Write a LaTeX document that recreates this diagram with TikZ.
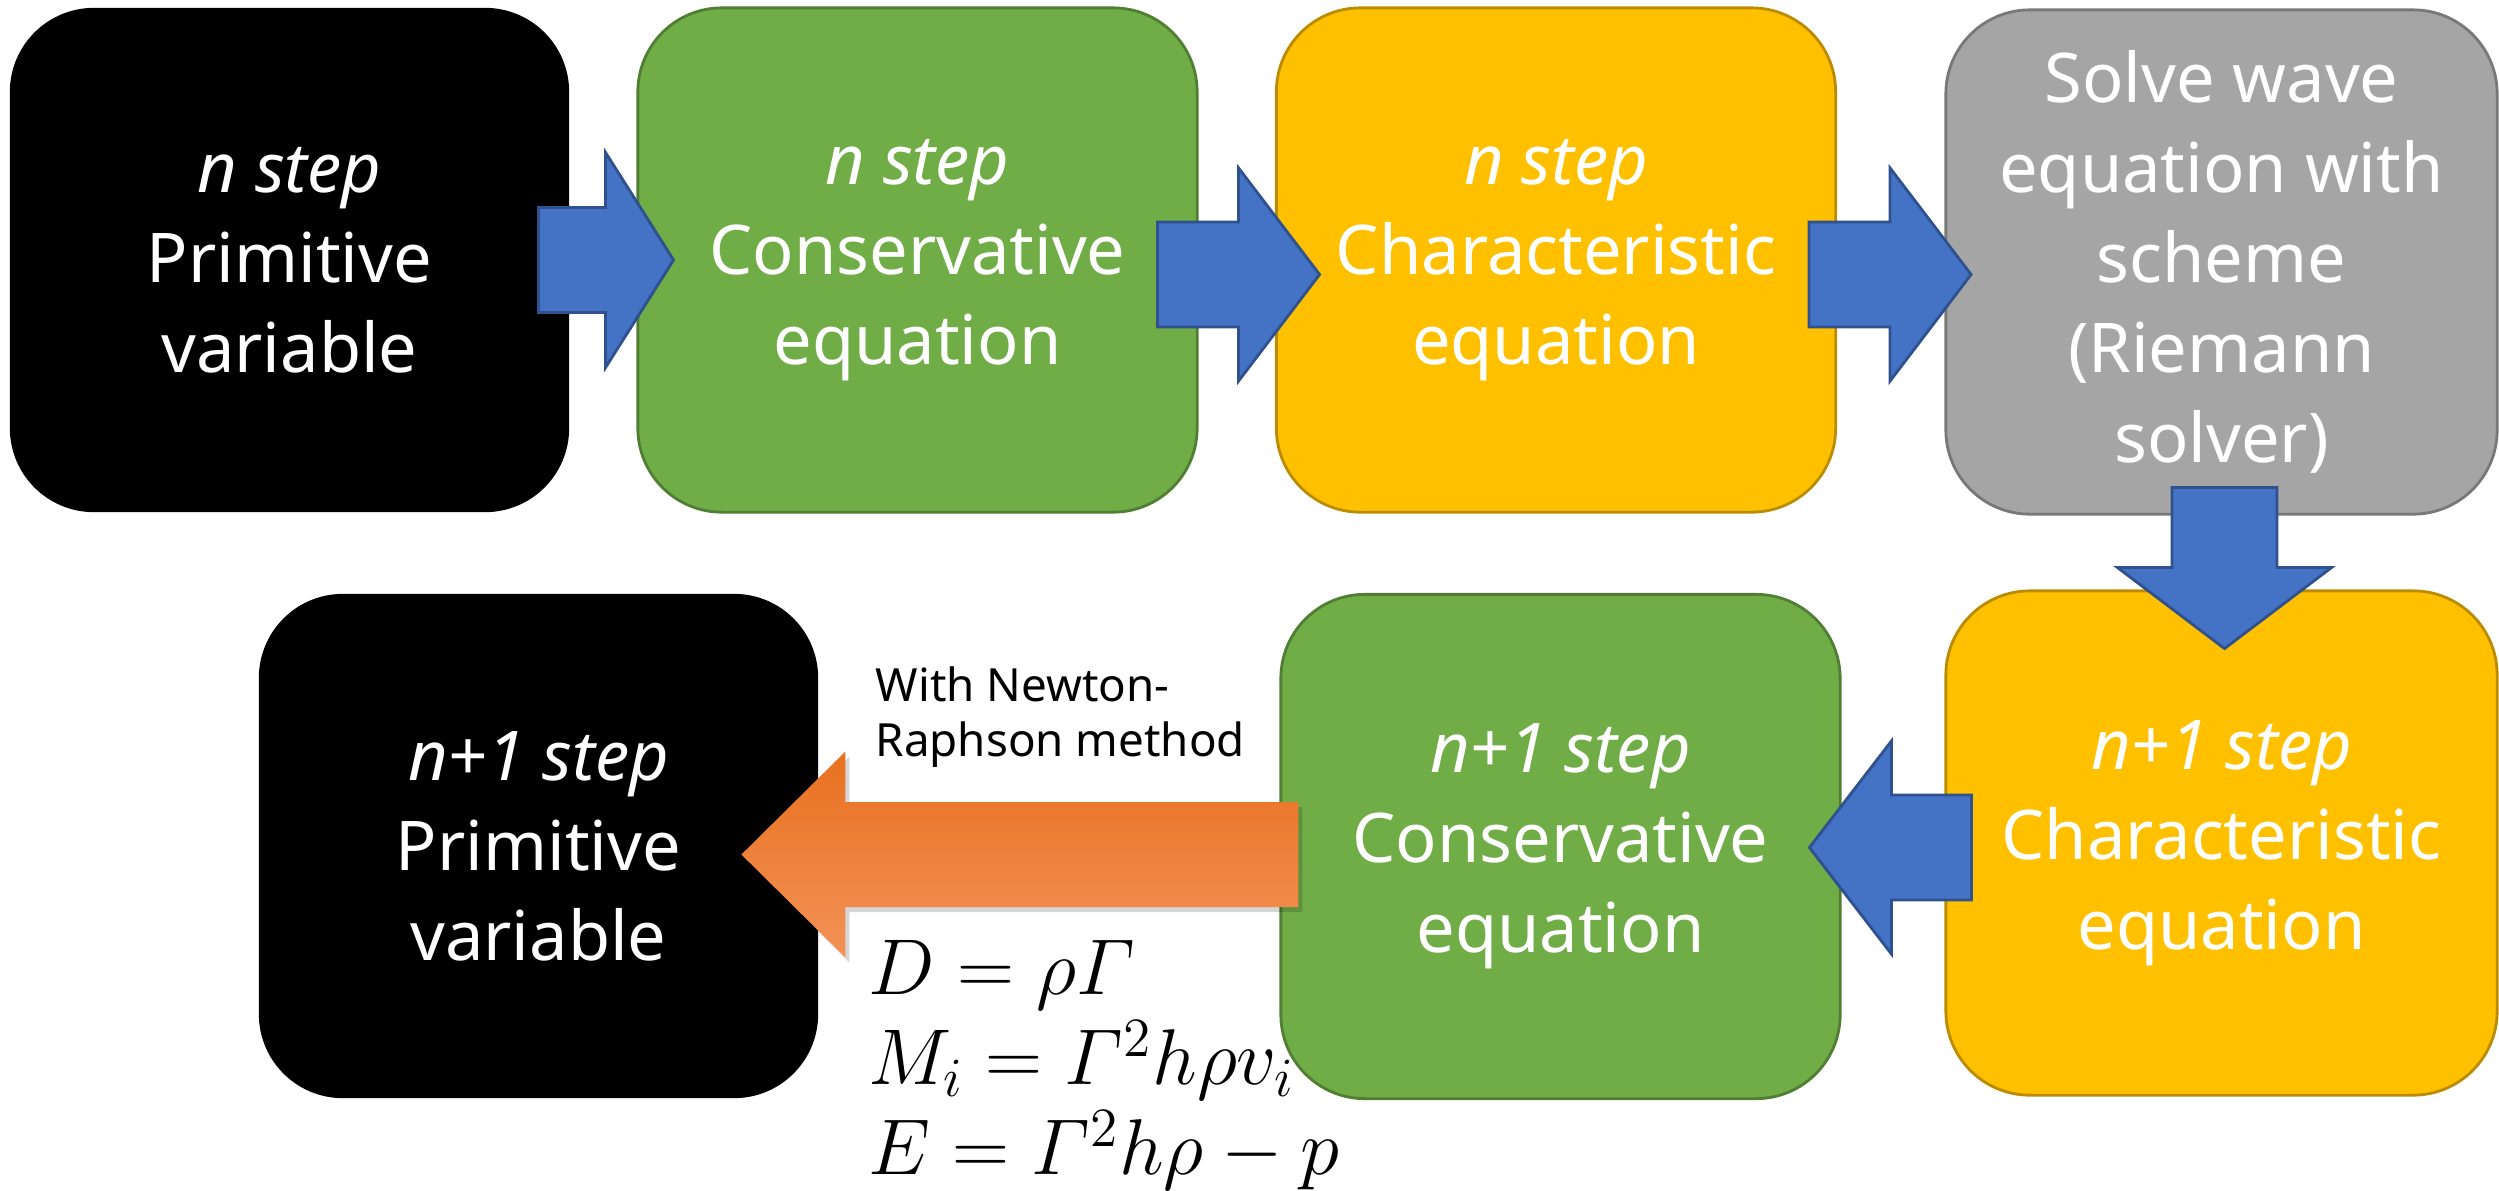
\RequirePackage{fix-cm}
\documentclass[tikz,border=0pt]{standalone}
\usepackage{amsmath}
\usepackage[no-math]{fontspec}
\setmainfont{Noto Sans}
\usetikzlibrary{calc}

\definecolor{boxgreen}{HTML}{70AD47}
\definecolor{greenedge}{HTML}{507E32}
\definecolor{boxyellow}{HTML}{FFC000}
\definecolor{yellowedge}{HTML}{BC8C00}
\definecolor{boxgray}{HTML}{A5A5A5}
\definecolor{grayedge}{HTML}{787878}
\definecolor{arrowblue}{HTML}{4472C4}
\definecolor{blueedge}{HTML}{2F528F}
\definecolor{orangetop}{HTML}{E8701F}
\definecolor{orangebottom}{HTML}{F39257}

\tikzset{
  flowbox/.style={rectangle, rounded corners=0.84cm, minimum width=5.59cm,
    minimum height=5.04cm, inner sep=0pt, align=center, text=white,
    font=\fontsize{19.5}{25.6}\selectfont, line width=0.8pt},
  blackbox/.style={flowbox, fill=black},
  greenbox/.style={flowbox, fill=boxgreen, draw=greenedge},
  yellowbox/.style={flowbox, fill=boxyellow, draw=yellowedge},
  graybox/.style={flowbox, fill=boxgray, draw=grayedge},
  bluearrow/.style={fill=arrowblue, draw=blueedge, line width=0.8pt, line join=miter},
  orangearrow/.style={top color=orangetop, bottom color=orangebottom, draw=none},
  arrowshadow/.style={fill=black, opacity=0.16, draw=none},
  note/.style={inner sep=0pt, align=left, text=black},
  % block arrow along +x: length / head length / shaft half-width / head half-width
  pics/fatarrow/.style args={#1/#2/#3/#4}{code={
    \path[pic actions] (0,-#3) -- ({#1-#2},-#3) -- ({#1-#2},-#4) -- (#1,0)
      -- ({#1-#2},#4) -- ({#1-#2},#3) -- (0,#3) -- cycle;
  }},
}

\begin{document}
\begin{tikzpicture}[x=0.01cm, y=-0.01cm]
\useasboundingbox (0,0) rectangle (2499,1190);

% top row
\node[blackbox]  (b1) at (289.5,260) {\textit{n step}\\Primitive\\variable};
\node[greenbox]  (b2) at (917.5,260) {\textit{n step}\\Conservative\\equation};
\node[yellowbox] (b3) at (1556,260) {\textit{n step}\\Characteristic\\equation};
\node[graybox, minimum width=5.51cm] (b4) at (2221.5,262)
  {Solve wave\\equation with\\scheme\\(Riemann\\solver)};

% bottom row
\node[yellowbox, minimum width=5.51cm] (b5) at (2221.5,843)
  {\textit{n+1 step}\\Characteristic\\equation};
\node[greenbox]  (b6) at (1560.5,846.5) {\textit{n+1 step}\\Conservative\\equation};
\node[blackbox]  (b7) at (538.5,846) {\textit{n+1 step}\\Primitive\\variable};

% flow arrows
\pic[bluearrow] at ($(b1.east)+(-32,0)$) {fatarrow=135/68/52.5/107.5};
\pic[bluearrow] at ($(b2.east)+(-41,14.5)$) {fatarrow=162/81/52.5/106.5};
\pic[bluearrow] at ($(b3.east)+(-28,14.5)$) {fatarrow=162/81/52.5/106.5};
\pic[bluearrow, rotate=-90] at ($(b4.south)+(3,-28)$) {fatarrow=161/81/52.5/107};
\pic[bluearrow, rotate=180] at ($(b5.west)+(27,4.5)$) {fatarrow=162/82/52.5/106.5};

% conversion arrow with its shadow
\pic[arrowshadow, rotate=180] at ($(b6.west)+(23,13)$) {fatarrow=557/104/52.5/103};
\pic[orangearrow, rotate=180] at ($(b6.west)+(19,8)$) {fatarrow=557/104/52.5/103};

% annotations
\node[note, anchor=north west, font=\fontsize{13}{15.6}\selectfont] (nr) at (875,666)
  {With Newton-\\Raphson method};
\node[note, anchor=north west, font=\fontsize{22.5}{25.6}\selectfont] (eq) at (868,940)
  {$D=\rho\varGamma$\\$M_i=\varGamma^2h\rho v_i$\\$E=\varGamma^2h\rho-p$};
\end{tikzpicture}
\end{document}
